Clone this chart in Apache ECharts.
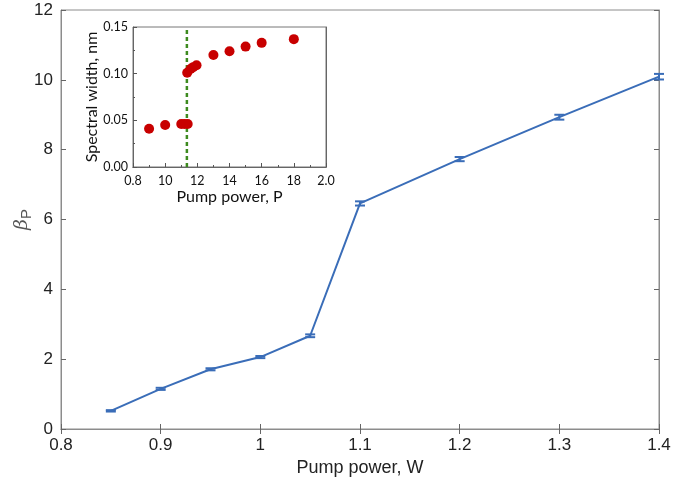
<!DOCTYPE html>
<html>
<head>
<meta charset="utf-8">
<script src="https://cdn.jsdelivr.net/npm/echarts@6/dist/echarts.min.js"></script>
<style>html,body{margin:0;padding:0;background:#fff;}#c{width:675px;height:490px;}</style>
</head>
<body>
<div id="c"></div>
<script>
// Main chart data
const pumpW = [0.85, 0.9, 0.95, 1.0, 1.05, 1.1, 1.2, 1.3, 1.4];
const betaP = [0.52, 1.15, 1.71, 2.06, 2.67, 6.46, 7.73, 8.93, 10.09];
const betaErr = [0.02, 0.03, 0.03, 0.03, 0.04, 0.06, 0.06, 0.07, 0.08];
// Inset data
const insetP = [0.9, 1.0, 1.10, 1.12, 1.14, 1.137, 1.158, 1.174, 1.195, 1.30, 1.40, 1.50, 1.60, 1.80];
const insetWidth = [0.041, 0.045, 0.046, 0.046, 0.046, 0.101, 0.105, 0.107, 0.109, 0.120, 0.124, 0.129, 0.133, 0.137];
const thresholdP = 1.135;
const insetXLabels = ['0.8', '10', '12', '14', '16', '18', '2.0'];
const insetYLabels = ['0.00', '0.05', '0.10', '0.15'];

const blue = '#3a6db8';
const mainFont = 'Liberation Sans';
const insetFont = 'Lato';

const chart = echarts.init(document.getElementById('c'), null, {renderer: 'canvas'});

const mainPts = pumpW.map((x, i) => [x, betaP[i]]);
const errPts = pumpW.map((x, i) => [x, betaP[i] - betaErr[i], betaP[i] + betaErr[i]]);
const insetPts = insetP.map((x, i) => [x, insetWidth[i]]);

const option = {
  animation: false,
  backgroundColor: '#fff',
  grid: [
    {left: 61, right: 16, top: 10, bottom: 61, show: true, borderColor: '#8c8c8c', borderWidth: 1,
     backgroundColor: 'transparent', containLabel: false, outerBoundsMode: 'none'},
    {left: 133, top: 27, width: 193, height: 140, show: true, borderColor: '#777', borderWidth: 1,
     backgroundColor: '#fff', z: 5, containLabel: false, outerBoundsMode: 'none'}
  ],
  xAxis: [
    {
      gridIndex: 0, type: 'value', min: 0.8, max: 1.4, interval: 0.1,
      name: 'Pump power, W', nameLocation: 'middle', nameGap: 28,
      nameTextStyle: {fontFamily: mainFont, fontSize: 18, color: '#222'},
      axisLine: {lineStyle: {color: '#8c8c8c'}},
      axisTick: {inside: true, length: 5, lineStyle: {color: '#666'}},
      axisLabel: {fontFamily: mainFont, fontSize: 17, color: '#222', margin: 8,
        formatter: v => String(Math.round(v * 10) / 10)},
      splitLine: {show: false}
    },
    {
      gridIndex: 0, type: 'value', min: 0.8, max: 1.4, interval: 0.1, position: 'top',
      axisLine: {lineStyle: {color: '#8c8c8c'}},
      axisTick: {inside: true, length: 5, lineStyle: {color: '#666'}},
      axisLabel: {show: false}, splitLine: {show: false}
    },
    {
      gridIndex: 1, type: 'value', min: 0.8, max: 2.0, interval: 0.2,
      name: 'Pump power, P', nameLocation: 'middle', nameGap: 22,
      nameTextStyle: {fontFamily: insetFont, fontSize: 16, color: '#111'},
      axisLine: {lineStyle: {color: '#666'}},
      axisTick: {inside: true, length: 4, lineStyle: {color: '#555'}},
      minorTick: {show: true, splitNumber: 2, length: 2, lineStyle: {color: '#555'}},
      axisLabel: {fontFamily: insetFont, fontSize: 12.5, color: '#111', margin: 7,
        formatter: v => insetXLabels[Math.round((v - 0.8) / 0.2)]},
      splitLine: {show: false}, minorSplitLine: {show: false}, z: 6
    },
    {
      gridIndex: 1, type: 'value', min: 0.8, max: 2.0, interval: 0.2, position: 'top',
      axisLine: {lineStyle: {color: '#666'}},
      axisTick: {show: false}, axisLabel: {show: false}, splitLine: {show: false}, z: 6
    }
  ],
  yAxis: [
    {
      gridIndex: 0, type: 'value', min: 0, max: 12, interval: 2,
      name: '{b|β}{s|P}', nameLocation: 'middle', nameGap: 27, nameMoveOverlap: false,
      nameTextStyle: {rich: {
        b: {fontFamily: 'DejaVu Serif', fontStyle: 'italic', fontSize: 19, color: '#555'},
        s: {fontFamily: mainFont, fontSize: 15, color: '#555', verticalAlign: 'bottom', padding: [9, 0, 0, 0]}
      }},
      axisLine: {show: true, lineStyle: {color: '#8c8c8c'}},
      axisTick: {show: true, inside: true, length: 5, lineStyle: {color: '#666'}},
      axisLabel: {fontFamily: mainFont, fontSize: 17, color: '#222', margin: 8},
      splitLine: {show: false}
    },
    {
      gridIndex: 0, type: 'value', min: 0, max: 12, interval: 2, position: 'right',
      axisLine: {show: true, lineStyle: {color: '#8c8c8c'}},
      axisTick: {show: true, inside: true, length: 5, lineStyle: {color: '#666'}},
      axisLabel: {show: false}, splitLine: {show: false}
    },
    {
      gridIndex: 1, type: 'value', min: 0, max: 0.15, interval: 0.05,
      name: 'Spectral width, nm', nameLocation: 'middle', nameGap: 33,
      nameTextStyle: {fontFamily: insetFont, fontSize: 16, color: '#111'},
      axisLine: {show: true, lineStyle: {color: '#666'}},
      axisTick: {show: true, inside: true, length: 4, lineStyle: {color: '#555'}},
      minorTick: {show: true, splitNumber: 2, length: 2, lineStyle: {color: '#555'}},
      axisLabel: {fontFamily: insetFont, fontSize: 12.5, color: '#111', margin: 5,
        formatter: v => insetYLabels[Math.round(v / 0.05)]},
      splitLine: {show: false}, minorSplitLine: {show: false}, z: 6
    },
    {
      gridIndex: 1, type: 'value', min: 0, max: 0.15, interval: 0.05, position: 'right',
      axisLine: {show: true, lineStyle: {color: '#666'}},
      axisTick: {show: false}, axisLabel: {show: false}, splitLine: {show: false}, z: 6
    }
  ],
  series: [
    {
      type: 'line', xAxisIndex: 0, yAxisIndex: 0, data: mainPts,
      showSymbol: false, symbol: 'none',
      lineStyle: {color: blue, width: 2}, z: 3
    },
    {
      type: 'custom', xAxisIndex: 0, yAxisIndex: 0, data: errPts, z: 4,
      renderItem: (params, api) => {
        const x = api.value(0);
        const lo = api.coord([x, api.value(1)]);
        const hi = api.coord([x, api.value(2)]);
        const w = 5;
        const st = {stroke: blue, lineWidth: 2};
        return {type: 'group', children: [
          {type: 'line', shape: {x1: lo[0], y1: lo[1], x2: hi[0], y2: hi[1]}, style: st},
          {type: 'line', shape: {x1: lo[0] - w, y1: lo[1], x2: lo[0] + w, y2: lo[1]}, style: st},
          {type: 'line', shape: {x1: hi[0] - w, y1: hi[1], x2: hi[0] + w, y2: hi[1]}, style: st}
        ]};
      }
    },
    {
      type: 'line', xAxisIndex: 2, yAxisIndex: 2,
      data: [[thresholdP, 0], [thresholdP, 0.15]],
      symbol: 'none', lineStyle: {color: '#3d8a1f', width: 2.5, type: [4, 3]}, z: 7
    },
    {
      type: 'scatter', xAxisIndex: 2, yAxisIndex: 2, data: insetPts,
      symbol: 'circle', symbolSize: 10,
      itemStyle: {color: '#c80000', opacity: 1}, z: 8
    }
  ]
};
chart.setOption(option);
</script>
</body>
</html>
